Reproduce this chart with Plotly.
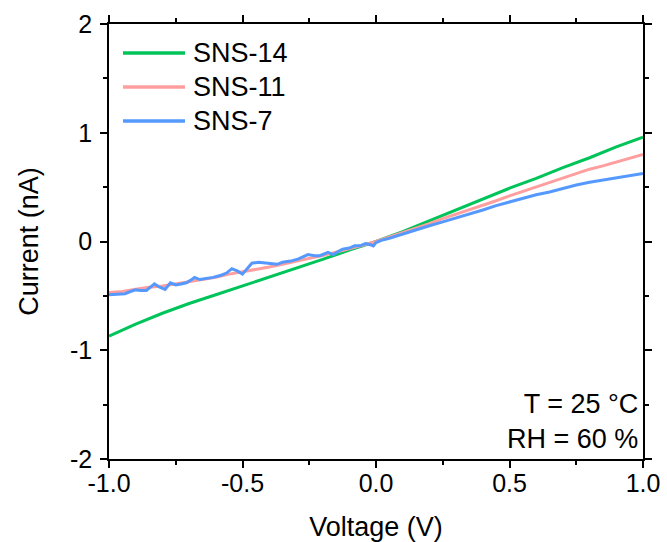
import plotly.graph_objects as go

# SNS-14 (green)
v14 = [-1.0, -0.9, -0.8, -0.7, -0.6, -0.5, -0.4, -0.3, -0.2, -0.1, 0.0,
       0.1, 0.2, 0.3, 0.4, 0.5, 0.6, 0.7, 0.8, 0.9, 1.0]
i14 = [-0.87, -0.76, -0.66, -0.57, -0.49, -0.41, -0.33, -0.25, -0.165, -0.08, 0.0,
       0.09, 0.19, 0.29, 0.39, 0.49, 0.58, 0.68, 0.77, 0.87, 0.96]

# SNS-11 (pink)
v11 = [-1.0, -0.95, -0.9, -0.85, -0.8, -0.75, -0.7, -0.65, -0.6, -0.55, -0.5,
       -0.45, -0.4, -0.35, -0.3, -0.25, -0.2, -0.15, -0.1, -0.05, 0.0,
       0.05, 0.1, 0.15, 0.2, 0.25, 0.3, 0.35, 0.4, 0.45, 0.5,
       0.55, 0.6, 0.65, 0.7, 0.75, 0.8, 0.85, 0.9, 0.95, 1.0]
i11 = [-0.47, -0.46, -0.44, -0.42, -0.41, -0.39, -0.37, -0.35, -0.33, -0.30, -0.28,
       -0.26, -0.235, -0.21, -0.18, -0.155, -0.13, -0.10, -0.07, -0.035, 0.0,
       0.04, 0.08, 0.12, 0.165, 0.21, 0.25, 0.295, 0.335, 0.375, 0.42,
       0.46, 0.50, 0.545, 0.585, 0.625, 0.665, 0.695, 0.73, 0.77, 0.80]

# SNS-7 (blue)
v7 = [-1.0, -0.97, -0.94, -0.92, -0.90, -0.88, -0.86, -0.84, -0.83, -0.81, -0.79,
      -0.77, -0.75, -0.73, -0.71, -0.69, -0.68, -0.66, -0.63, -0.61, -0.58,
      -0.56, -0.54, -0.52, -0.50, -0.48, -0.465, -0.44, -0.41, -0.39, -0.37,
      -0.35, -0.32, -0.29, -0.27, -0.255, -0.23, -0.21, -0.18, -0.16, -0.14,
      -0.125, -0.10, -0.08, -0.06, -0.04, -0.02, -0.01, 0.0, 0.02, 0.05,
      0.1, 0.15, 0.2, 0.25, 0.3, 0.35, 0.4, 0.45, 0.5, 0.55,
      0.6, 0.65, 0.7, 0.75, 0.8, 0.85, 0.9, 0.95, 1.0]
i7 = [-0.49, -0.485, -0.48, -0.46, -0.445, -0.45, -0.45, -0.41, -0.39, -0.42, -0.44,
      -0.38, -0.40, -0.39, -0.38, -0.35, -0.33, -0.35, -0.34, -0.33, -0.31,
      -0.29, -0.25, -0.27, -0.30, -0.24, -0.20, -0.19, -0.20, -0.21, -0.21,
      -0.19, -0.18, -0.16, -0.14, -0.12, -0.13, -0.13, -0.10, -0.12, -0.09,
      -0.07, -0.06, -0.04, -0.04, -0.02, -0.03, -0.04, -0.01, 0.01, 0.03,
      0.07, 0.11, 0.145, 0.18, 0.215, 0.255, 0.29, 0.33, 0.365, 0.40,
      0.43, 0.455, 0.49, 0.52, 0.545, 0.565, 0.585, 0.605, 0.625]

names = ["SNS-14", "SNS-11", "SNS-7"]
colors = ["#00C45A", "#FF9E9E", "#5599FF"]

x_ticks = [-1.0, -0.5, 0.0, 0.5, 1.0]
x_labels = ["-1.0", "-0.5", "0.0", "0.5", "1.0"]
y_ticks = [-2, -1, 0, 1, 2]
y_labels = ["-2", "-1", "0", "1", "2"]

FONT = "Arial, Liberation Sans, sans-serif"

fig = go.Figure()
for v, i, n, c in zip([v14, v11, v7], [i14, i11, i7], names, colors):
    fig.add_trace(go.Scatter(x=v, y=i, mode="lines", name=n,
                             line=dict(color=c, width=3), showlegend=False))

axis_common = dict(
    showline=True, linecolor="black", linewidth=1.5, mirror="allticks",
    ticks="outside", ticklen=7, tickwidth=1.5, tickcolor="black",
    showgrid=False, zeroline=False, automargin=False,
    tickfont=dict(family=FONT, size=25, color="black"),
)

fig.update_xaxes(range=[-1, 1], tickvals=x_ticks, ticktext=x_labels,
                 ticklabelstandoff=-6,
                 minor=dict(ticks="outside", ticklen=4, tickwidth=1.5,
                            tickcolor="black", dtick=0.25, showgrid=False),
                 title=dict(text="Voltage (V)", font=dict(family=FONT, size=27, color="black"),
                            standoff=27),
                 **axis_common)
fig.update_yaxes(range=[-2, 2], tickvals=y_ticks, ticktext=y_labels,
                 ticklabelstandoff=3,
                 minor=dict(ticks="outside", ticklen=4, tickwidth=1.5,
                            tickcolor="black", dtick=0.5, showgrid=False),
                 title=dict(text="Current (nA)", font=dict(family=FONT, size=27, color="black"),
                            standoff=24),
                 **axis_common)

# legend (drawn manually in paper coordinates to match line length and spacing)
plot_l, plot_r, plot_t, plot_b = 109, 643, 24, 459
def px(xp):
    return (xp - plot_l) / (plot_r - plot_l)
def py(yp):
    return (plot_b - yp) / (plot_b - plot_t)

legend_rows = [53, 87, 121]
for n, c, yr in zip(names, colors, legend_rows):
    fig.add_shape(type="line", xref="paper", yref="paper",
                  x0=px(123), x1=px(185), y0=py(yr), y1=py(yr),
                  line=dict(color=c, width=3.5))
    fig.add_annotation(xref="paper", yref="paper", x=px(191), y=py(yr),
                       xanchor="left", yanchor="middle", showarrow=False,
                       text=n, font=dict(family=FONT, size=27, color="black"))

fig.add_annotation(xref="paper", yref="paper", x=px(640), y=py(456), xanchor="right",
                   yanchor="bottom", showarrow=False, align="right",
                   text="T = 25 °C<br>RH = 60 %",
                   font=dict(family=FONT, size=27, color="black"))

fig.update_layout(
    width=667, height=542,
    margin=dict(l=plot_l, r=667 - plot_r, t=plot_t, b=542 - plot_b),
    paper_bgcolor="white", plot_bgcolor="white",
    showlegend=False,
)

fig.write_html("out.html")
